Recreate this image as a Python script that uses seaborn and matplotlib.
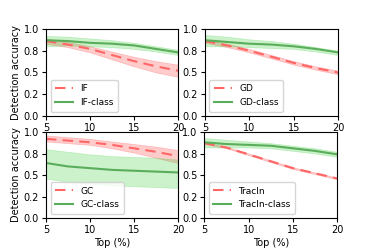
import matplotlib
matplotlib.use("Agg")
import matplotlib.pyplot as plt
import seaborn as sns
import pandas as pd
from matplotlib.ticker import FormatStrFormatter

top = [5, 7.5, 10, 12.5, 15, 17.5, 20]

methods = ["IF", "GD", "GC", "TracIn"]

# mean / lower / upper for the plain method (red, dashed)
base_mean = {
    "IF": [0.86, 0.82, 0.77, 0.70, 0.63, 0.57, 0.52],
    "GD": [0.86, 0.81, 0.75, 0.68, 0.61, 0.55, 0.50],
    "GC": [0.92, 0.90, 0.88, 0.85, 0.81, 0.77, 0.72],
    "TracIn": [0.87, 0.82, 0.74, 0.66, 0.58, 0.52, 0.46],
}
base_lo = {
    "IF": [0.83, 0.79, 0.73, 0.65, 0.57, 0.50, 0.45],
    "GD": [0.84, 0.79, 0.73, 0.66, 0.59, 0.53, 0.48],
    "GC": [0.89, 0.87, 0.85, 0.81, 0.76, 0.70, 0.64],
    "TracIn": [0.86, 0.81, 0.73, 0.65, 0.57, 0.51, 0.45],
}
base_hi = {
    "IF": [0.89, 0.85, 0.80, 0.74, 0.68, 0.63, 0.59],
    "GD": [0.88, 0.83, 0.77, 0.70, 0.63, 0.57, 0.52],
    "GC": [0.96, 0.94, 0.92, 0.89, 0.86, 0.83, 0.79],
    "TracIn": [0.88, 0.83, 0.75, 0.67, 0.59, 0.53, 0.47],
}

# class-level variant (green, solid)
cls_mean = {
    "IF": [0.87, 0.86, 0.84, 0.83, 0.81, 0.77, 0.73],
    "GD": [0.87, 0.85, 0.83, 0.82, 0.80, 0.77, 0.73],
    "GC": [0.64, 0.60, 0.58, 0.56, 0.55, 0.54, 0.53],
    "TracIn": [0.88, 0.86, 0.85, 0.84, 0.81, 0.78, 0.74],
}
cls_lo = {
    "IF": [0.80, 0.81, 0.80, 0.79, 0.77, 0.74, 0.70],
    "GD": [0.80, 0.80, 0.79, 0.78, 0.77, 0.74, 0.70],
    "GC": [0.46, 0.42, 0.40, 0.38, 0.37, 0.36, 0.35],
    "TracIn": [0.82, 0.82, 0.82, 0.81, 0.78, 0.75, 0.71],
}
cls_hi = {
    "IF": [0.92, 0.91, 0.89, 0.87, 0.84, 0.80, 0.76],
    "GD": [0.93, 0.91, 0.88, 0.86, 0.83, 0.79, 0.75],
    "GC": [0.80, 0.77, 0.74, 0.72, 0.71, 0.70, 0.68],
    "TracIn": [0.93, 0.91, 0.89, 0.87, 0.84, 0.81, 0.77],
}

RED = "#ff6666"
GREEN = "#5aad5a"

fig = plt.figure(figsize=(3.74, 2.49), dpi=100)
positions = [
    [0.123, 0.534, 0.353, 0.350],
    [0.548, 0.534, 0.356, 0.350],
    [0.123, 0.124, 0.353, 0.346],
    [0.546, 0.124, 0.356, 0.346],
]

for i, (m, pos) in enumerate(zip(methods, positions)):
    ax = fig.add_axes(pos)
    df = pd.DataFrame({
        "top": top * 2,
        "acc": base_mean[m] + cls_mean[m],
        "method": [m] * len(top) + [f"{m}-class"] * len(top),
    })
    ax.fill_between(top, base_lo[m], base_hi[m], color="red", alpha=0.2, lw=0.5)
    ax.fill_between(top, cls_lo[m], cls_hi[m], color="#33cc33", alpha=0.25, lw=0.5)
    sns.lineplot(
        data=df, x="top", y="acc", hue="method", style="method",
        palette=[RED, GREEN], dashes=[(5, 3), ""], ax=ax, lw=1.5,
    )
    ax.set_xlim(5, 20)
    ax.set_ylim(0, 1)
    ax.set_xticks([5, 10, 15, 20])
    ax.set_yticks([0, 0.25, 0.5, 0.75, 1.0])
    ax.yaxis.set_major_formatter(FormatStrFormatter("%.1f"))
    ax.tick_params(labelsize=7, length=3, pad=2)
    ax.set_ylabel("Detection accuracy" if i % 2 == 0 else "", fontsize=7, labelpad=2)
    ax.set_xlabel("Top (%)" if i >= 2 else "", fontsize=7, labelpad=2)
    ax.legend(loc="lower left", fontsize=6.5, title=None, handlelength=2.0,
              borderpad=0.5, labelspacing=0.5)

fig.savefig("out.png", dpi=100)
